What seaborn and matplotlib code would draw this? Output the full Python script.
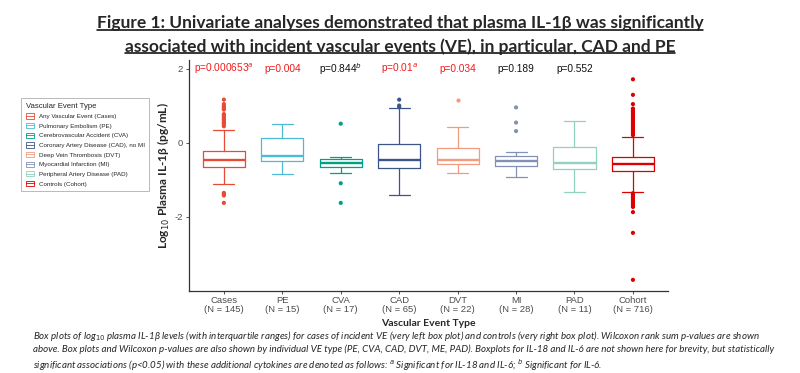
import matplotlib
matplotlib.use("Agg")
import matplotlib.pyplot as plt
from matplotlib.patches import Patch
from matplotlib.lines import Line2D
import seaborn as sns
import pandas as pd

# ---- data ----
groups = ["Cases", "PE", "CVA", "CAD", "DVT", "MI", "PAD", "Cohort"]
group_n = [145, 15, 17, 65, 22, 28, 11, 716]
legend_names = ["Any Vascular Event (Cases)", "Pulmonary Embolism (PE)",
                "Cerebrovascular Accident (CVA)", "Coronary Artery Disease (CAD), no MI",
                "Deep Vein Thrombosis (DVT)", "Myocardial Infarction (MI)",
                "Peripheral Artery Disease (PAD)", "Controls (Cohort)"]
colors = ["#E64B35", "#4DBBD5", "#00A087", "#3C5488",
          "#F39B7F", "#8491B4", "#91D1C2", "#DC0000"]

# box summaries: lower whisker, Q1, median, Q3, upper whisker
summary = {
    "Cases":  [-1.12, -0.66, -0.47, -0.23, 0.36],
    "PE":     [-0.84, -0.50, -0.34, 0.13, 0.51],
    "CVA":    [-0.82, -0.66, -0.55, -0.44, -0.37],
    "CAD":    [-1.41, -0.67, -0.46, -0.04, 0.94],
    "DVT":    [-0.80, -0.58, -0.45, -0.14, 0.44],
    "MI":     [-0.93, -0.62, -0.49, -0.35, -0.25],
    "PAD":    [-1.33, -0.70, -0.53, -0.12, 0.60],
    "Cohort": [-1.32, -0.75, -0.56, -0.37, 0.17],
}
outliers = {
    "Cases":  [0.45, 0.50, 0.53, 0.56, 0.60, 0.63, 0.66, 0.70, 0.74, 0.78,
               0.90, 0.93, 0.96, 1.00, 1.05, 1.17, -1.35, -1.38, -1.42, -1.62],
    "PE":     [],
    "CVA":    [0.52, -1.09, -1.62],
    "CAD":    [0.97, 1.01, 1.17],
    "DVT":    [1.17],
    "MI":     [0.32, 0.55, 0.96],
    "PAD":    [],
    "Cohort": [0.21, 0.25, 0.29, 0.33, 0.37, 0.41, 0.45, 0.49, 0.53, 0.57,
               0.61, 0.65, 0.69, 0.73, 0.77, 0.81, 0.85, 0.89, 0.93,
               1.05, 1.30, 1.72,
               -1.36, -1.40, -1.44, -1.48, -1.52, -1.56, -1.60, -1.64, -1.69,
               -1.73, -1.87, -2.43, -3.70],
}
p_labels = ["p=0.000653$^{a}$", "p=0.004", "p=0.844$^{b}$", "p=0.01$^{a}$",
            "p=0.034", "p=0.189", "p=0.552", ""]
p_signif = [True, True, False, True, True, False, False, False]

box_df = pd.DataFrame([(g, v) for g in groups for v in summary[g]],
                      columns=["group", "value"])
out_df = pd.DataFrame([(g, v) for g in groups for v in outliers[g]],
                      columns=["group", "value"])
pal = dict(zip(groups, colors))

sns.set_style("white")
plt.rcParams["font.family"] = ["Liberation Sans", "DejaVu Sans"]

fig = plt.figure(figsize=(8, 3.73), dpi=100)
ax = fig.add_axes([0.236, 0.22, 0.599, 0.619])

sns.boxplot(data=box_df, x="group", y="value", hue="group", order=groups,
            hue_order=groups, palette=pal, fill=False, whis=(0, 100),
            width=0.72, linewidth=0.9, showfliers=False, legend=False,
            medianprops=dict(linewidth=1.7), ax=ax)
sns.stripplot(data=out_df, x="group", y="value", hue="group", order=groups,
              hue_order=groups, palette=pal, jitter=False, size=3.0,
              linewidth=0, legend=False, ax=ax)

ax.set_ylim(-4, 2.24)
ax.set_xlim(-0.6, 7.6)
ax.set_yticks([-2, 0, 2])
ax.set_yticklabels(["-2", "0", "2"])
ax.set_xticks(range(len(groups)))
ax.set_xticklabels([f"{g}\n(N = {n})" for g, n in zip(groups, group_n)],
                   linespacing=1.0)
ax.tick_params(axis="both", labelsize=6.8, labelcolor="#4D4D4D", color="#333333",
               length=2.5, width=0.6, pad=1.5, left=True, bottom=True)
for side in ["top", "right"]:
    ax.spines[side].set_visible(False)
for side in ["left", "bottom"]:
    ax.spines[side].set_color("#333333")
    ax.spines[side].set_linewidth(0.9)

ax.set_xlabel("Vascular Event Type", fontsize=7.5, fontweight="bold",
              family=["Lato", "DejaVu Sans"], labelpad=3)
ax.set_ylabel(r"Log$_{10}$ Plasma IL-1β (pg/mL)", fontsize=8.6, fontweight="bold",
              family=["Lato", "DejaVu Sans"], labelpad=2)

for i, (lab, sig) in enumerate(zip(p_labels, p_signif)):
    ax.text(i, 2.0, lab, ha="center", va="center", fontsize=7.3,
            color="#F21B1B" if sig else "#111111")

# legend
handles = [(Patch(facecolor="white", edgecolor=c, linewidth=0.6),
            Line2D([], [], color=c, linewidth=0.6)) for c in colors]
leg = fig.legend(handles, legend_names, title="Vascular Event Type",
                 loc="upper left", bbox_to_anchor=(0.0225, 0.745),
                 fontsize=4.5, title_fontsize=5.6, frameon=True, fancybox=False,
                 edgecolor="#9A9A9A", handlelength=1.3, handleheight=0.9,
                 labelspacing=0.62, borderpad=0.7, handletextpad=0.8,
                 alignment="left")
leg.get_frame().set_linewidth(0.6)

# title with underline
title_lines = ["Figure 1: Univariate analyses demonstrated that plasma IL-1β was significantly",
               "associated with incident vascular events (VE), in particular, CAD and PE"]
title_y = [0.937, 0.876]
tts = []
for txt, y in zip(title_lines, title_y):
    tts.append(fig.text(0.5, y, txt, ha="center", va="center", fontsize=12.5,
                        fontweight="bold", family=["Lato", "DejaVu Sans"]))

caption = ("Box plots of log$_{10}$ plasma IL-1β levels (with interquartile ranges) for cases of incident VE "
           "(very left box plot) and controls (very right box plot). Wilcoxon rank sum p-values are shown\n"
           "above. Box plots and Wilcoxon p-values are also shown by individual VE type (PE, CVA, CAD, DVT, ME, PAD). "
           "Boxplots for IL-18 and IL-6 are not shown here for brevity, but statistically\n"
           "significant associations (p<0.05) with these additional cytokines are denoted as follows: "
           "$^{a}$ Significant for IL-18 and IL-6; $^{b}$ Significant for IL-6.")
fig.text(0.041, 0.059, caption, ha="left", va="center", fontsize=7.0,
         style="italic", family=["Lato", "DejaVu Sans"], linespacing=1.2)

fig.canvas.draw()
renderer = fig.canvas.get_renderer()
inv = fig.transFigure.inverted()
for t in tts:
    bb = t.get_window_extent(renderer)
    (x0, y0), (x1, _) = inv.transform([[bb.x0, bb.y0], [bb.x1, bb.y1]])
    fig.add_artist(Line2D([x0, x1], [y0 + 0.004, y0 + 0.004], color="black",
                          linewidth=1.1, transform=fig.transFigure))

fig.savefig("out.png", dpi=100)
